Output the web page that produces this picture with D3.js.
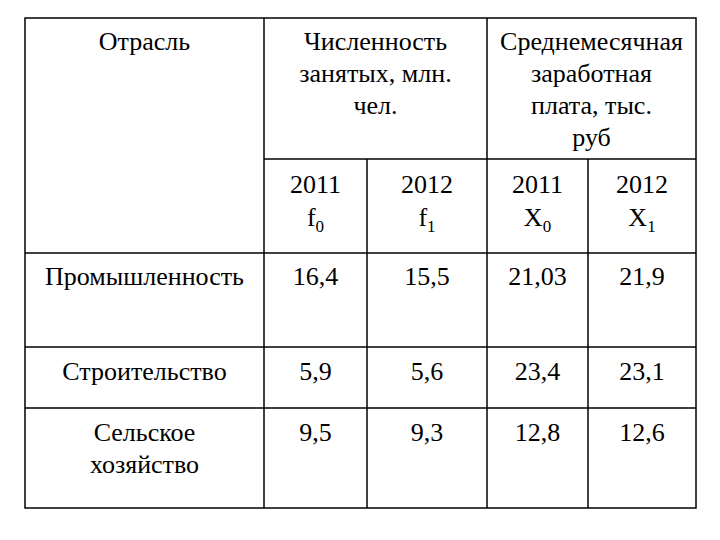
<!DOCTYPE html><html><head><meta charset="utf-8">
<script src="https://cdn.jsdelivr.net/npm/d3@7"></script>
<style>body{margin:0;background:#fff} text{font-family:"Liberation Serif","Times New Roman","DejaVu Serif",serif;}</style></head><body>
<svg id="c" width="720" height="540"></svg>
<script>
const industries = [["Промышленность"],["Строительство"],["Сельское","хозяйство"]];
const employed2011 = ["16,4","5,9","9,5"];
const employed2012 = ["15,5","5,6","9,3"];
const wage2011 = ["21,03","23,4","12,8"];
const wage2012 = ["21,9","23,1","12,6"];
const groupHeaders = [["Отрасль"],["Численность","занятых, млн.","чел."],["Среднемесячная","заработная","плата,  тыс.","руб"]];
const yearHeaders = [["2011","f","0"],["2012","f","1"],["2011","X","0"],["2012","X","1"]];

const svg = d3.select("#c");
const colX = [25,264,367,487,588,696];
const rowY = [18,159,253,347,408,508];
const fs = 26, lh = 32;
const g = svg.append("g").attr("font-size",fs).attr("fill","#000");
const line=(x1,y1,x2,y2)=>g.append("line").attr("x1",x1).attr("y1",y1).attr("x2",x2).attr("y2",y2).attr("stroke","#000").attr("stroke-width",1.5);
g.append("rect").attr("x",colX[0]).attr("y",rowY[0]).attr("width",colX[5]-colX[0]).attr("height",rowY[5]-rowY[0]).attr("fill","none").attr("stroke","#000").attr("stroke-width",1.5);
line(colX[1],rowY[0],colX[1],rowY[5]);
line(colX[3],rowY[0],colX[3],rowY[5]);
line(colX[2],rowY[1],colX[2],rowY[5]);
line(colX[4],rowY[1],colX[4],rowY[5]);
line(colX[1],rowY[1],colX[5],rowY[1]);
for(let i=2;i<5;i++) line(colX[0],rowY[i],colX[5],rowY[i]);

function txt(lines,cx,y0){
  lines.forEach((s,i)=>g.append("text").attr("x",cx).attr("y",y0+i*lh).attr("text-anchor","middle").text(s));
}
const spans=[[0,1],[1,3],[3,5]];
groupHeaders.forEach((h,i)=>txt(h,(colX[spans[i][0]]+colX[spans[i][1]])/2,50));
yearHeaders.forEach((h,i)=>{
  const cx=(colX[i+1]+colX[i+2])/2;
  g.append("text").attr("x",cx).attr("y",193).attr("text-anchor","middle").text(h[0]);
  const t=g.append("text").attr("x",cx).attr("y",226).attr("text-anchor","middle");
  t.append("tspan").text(h[1]);
  t.append("tspan").attr("font-size",17).attr("dy",6).text(h[2]);
});
const cols=[employed2011,employed2012,wage2011,wage2012];
const rowBase=[285,380,441];
industries.forEach((n,r)=>{
  txt(n,(colX[0]+colX[1])/2,rowBase[r]);
  cols.forEach((c,j)=>txt([c[r]],(colX[j+1]+colX[j+2])/2,rowBase[r]));
});
</script></body></html>
